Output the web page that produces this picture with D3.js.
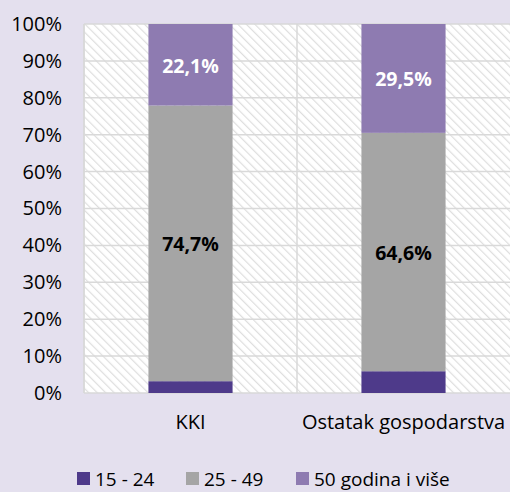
<!DOCTYPE html>
<html>
<head>
<meta charset="utf-8">
<script src="https://cdn.jsdelivr.net/npm/d3@7"></script>
<style>
  html, body { margin: 0; padding: 0; background: #E4E0EE; }
  svg { display: block; font-family: "Open Sans", "Noto Sans", sans-serif; }
</style>
</head>
<body>
<div id="chart"></div>
<script>
// data
var categories = ["KKI", "Ostatak gospodarstva"];
var seriesNames = ["15 - 24", "25 - 49", "50 godina i više"];
var age15_24 = [3.2, 5.9];
var age25_49 = [74.7, 64.6];
var age50plus = [22.1, 29.5];
var yTicks = [0, 10, 20, 30, 40, 50, 60, 70, 80, 90, 100];
var colors = ["#4E3A8A", "#A5A5A5", "#8E7BB1"];
var labelColors = ["#fff", "#000", "#fff"];

var W = 510, H = 492;
var margin = {top: 24, right: 0, bottom: 99, left: 84},
    width = W - margin.left - margin.right,
    height = H - margin.top - margin.bottom;

var svg = d3.select("#chart")
    .append("svg")
    .attr("width", W)
    .attr("height", H);

svg.append("rect").attr("width", W).attr("height", H).attr("fill", "#E4E0EE");

// hatch pattern for plot area
var defs = svg.append("defs");
var pat = defs.append("pattern")
    .attr("id", "hatch")
    .attr("patternUnits", "userSpaceOnUse")
    .attr("width", 6)
    .attr("height", 6)
    .attr("patternTransform", "rotate(-45)");
pat.append("rect").attr("width", 6).attr("height", 6).attr("fill", "#fff");
pat.append("line")
    .attr("x1", 0).attr("y1", 0).attr("x2", 0).attr("y2", 6)
    .attr("stroke", "#DEDEDE")
    .attr("stroke-width", 2.4);

var g = svg.append("g")
    .attr("transform", "translate(" + margin.left + "," + margin.top + ")");

g.append("rect")
    .attr("width", width)
    .attr("height", height)
    .attr("fill", "url(#hatch)");

var x = d3.scaleBand()
    .domain(categories)
    .range([0, width])
    .paddingInner(0)
    .paddingOuter(0);

var y = d3.scaleLinear()
    .domain([0, 100])
    .range([height, 0]);

// horizontal gridlines
g.selectAll(".grid")
    .data(yTicks)
    .enter()
    .append("line")
    .attr("x1", 0)
    .attr("x2", width)
    .attr("y1", function(d) { return y(d); })
    .attr("y2", function(d) { return y(d); })
    .attr("stroke", "#D9D9D9")
    .attr("stroke-width", 1.5);

// vertical gridlines at category boundaries
g.selectAll(".vgrid")
    .data(categories)
    .enter()
    .append("line")
    .attr("x1", function(d) { return x(d); })
    .attr("x2", function(d) { return x(d); })
    .attr("y1", 0)
    .attr("y2", height)
    .attr("stroke", "#D9D9D9")
    .attr("stroke-width", 1.5);

// stack
var rows = categories.map(function(c, i) {
    return {cat: c, s0: age15_24[i], s1: age25_49[i], s2: age50plus[i]};
});
var stack = d3.stack().keys(["s0", "s1", "s2"])(rows);

var barW = x.bandwidth() * 0.395;

var layers = g.selectAll(".layer")
    .data(stack)
    .enter()
    .append("g")
    .attr("fill", function(d, i) { return colors[i]; });

layers.selectAll("rect")
    .data(function(d) { return d; })
    .enter()
    .append("rect")
    .attr("x", function(d) { return x(d.data.cat) + (x.bandwidth() - barW) / 2; })
    .attr("width", barW)
    .attr("y", function(d) { return y(d[1]); })
    .attr("height", function(d) { return y(d[0]) - y(d[1]); });

// data labels (only for the two big segments)
[1, 2].forEach(function(k) {
    g.selectAll(".lbl" + k)
        .data(stack[k])
        .enter()
        .append("text")
        .attr("x", function(d) { return x(d.data.cat) + x.bandwidth() / 2; })
        .attr("y", function(d) { return (y(d[0]) + y(d[1])) / 2 + 1; })
        .attr("dy", "0.35em")
        .attr("text-anchor", "middle")
        .attr("fill", labelColors[k])
        .style("font-size", "19.5px")
        .style("font-weight", "bold")
        .text(function(d) { return (d[1] - d[0]).toFixed(1).replace(".", ",") + "%"; });
});

// y axis labels
var yAxis = g.append("g")
    .call(d3.axisLeft(y).tickValues(yTicks).tickSize(0).tickPadding(22)
        .tickFormat(function(d) { return d + "%"; }));
yAxis.select(".domain").remove();
yAxis.selectAll("text")
    .style("font-size", "20px")
    .style("font-family", "'Open Sans', sans-serif")
    .attr("fill", "#000");

// left axis line
g.append("line")
    .attr("x1", 0).attr("x2", 0)
    .attr("y1", 0).attr("y2", height)
    .attr("stroke", "#D9D9D9")
    .attr("stroke-width", 1.5);

// x axis labels
var xAxis = g.append("g")
    .attr("transform", "translate(0," + height + ")")
    .call(d3.axisBottom(x).tickSize(0).tickPadding(22));
xAxis.select(".domain").remove();
xAxis.selectAll("text")
    .style("font-size", "20px")
    .style("font-family", "'Open Sans', sans-serif")
    .attr("fill", "#000");

// legend
var legendX = [77, 186, 296];
var legend = svg.append("g").attr("transform", "translate(0,478)");
seriesNames.forEach(function(name, i) {
    legend.append("rect")
        .attr("x", legendX[i])
        .attr("y", -6)
        .attr("width", 13)
        .attr("height", 13)
        .attr("fill", colors[i]);
    legend.append("text")
        .attr("x", legendX[i] + 18)
        .attr("y", 1)
        .attr("dy", "0.35em")
        .style("font-size", "19px")
        .attr("fill", "#000")
        .text(name);
});
</script>
</body>
</html>
